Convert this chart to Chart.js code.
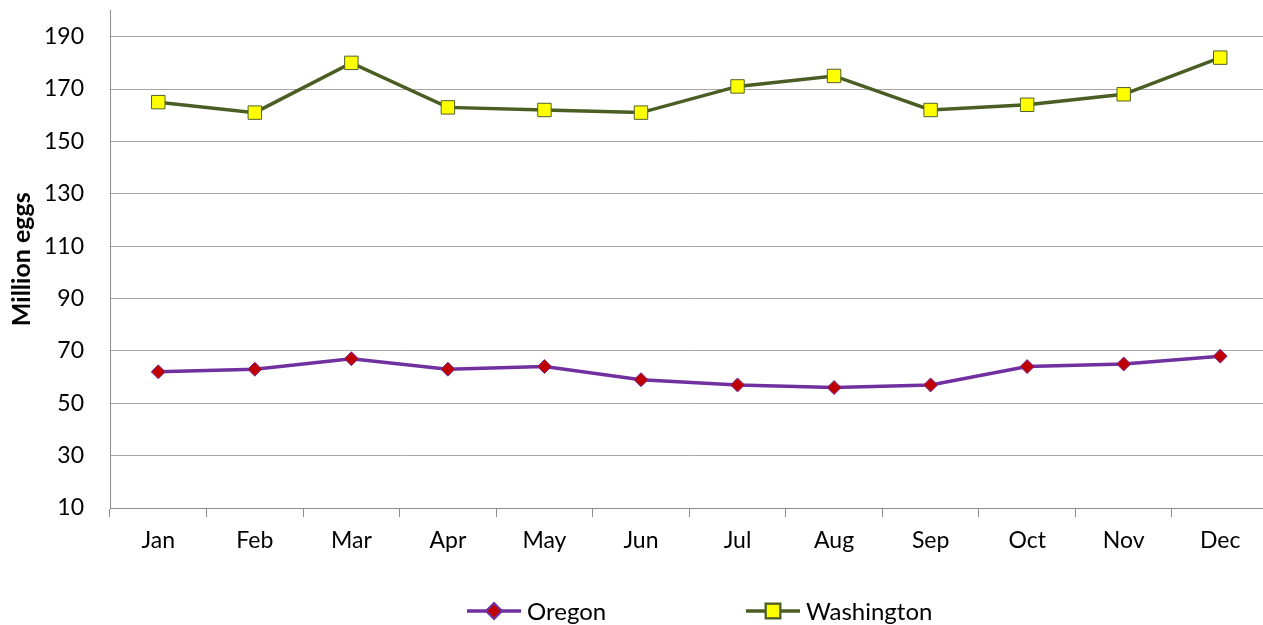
<!DOCTYPE html>
<html>
<head>
<meta charset="utf-8">
<script src="https://cdn.jsdelivr.net/npm/chart.js@4"></script>
<style>
  html, body { margin: 0; padding: 0; background: #fff; overflow: hidden; }
  #wrap { width: 1279px; height: 625px; position: relative; }
</style>
</head>
<body>
<div id="wrap"><canvas id="chart"></canvas></div>
<script>
const months = ['Jan', 'Feb', 'Mar', 'Apr', 'May', 'Jun', 'Jul', 'Aug', 'Sep', 'Oct', 'Nov', 'Dec'];
const oregon = [62, 63, 67, 63, 64, 59, 57, 56, 57, 64, 65, 68];
const washington = [165, 161, 180, 163, 162, 161, 171, 175, 162, 164, 168, 182];
const yTicks = [10, 30, 50, 70, 90, 110, 130, 150, 170, 190];

const FONT = 'Lato, "Open Sans", sans-serif';
const FONT_SIZE = 23;

// legend drawn Excel-style: short line with the marker in its middle
const lineLegend = {
    id: 'lineLegend',
    afterDraw(chart) {
        const ctx = chart.ctx;
        const y = 611;
        const starts = [467, 746];
        ctx.save();
        chart.data.datasets.forEach((ds, i) => {
            const x0 = starts[i];
            ctx.strokeStyle = ds.borderColor;
            ctx.lineWidth = ds.borderWidth;
            ctx.beginPath();
            ctx.moveTo(x0, y);
            ctx.lineTo(x0 + 54, y);
            ctx.stroke();
            Chart.helpers.drawPoint(ctx, {
                pointStyle: ds.pointStyle,
                radius: ds.pointRadius,
                borderWidth: 1
            }, x0 + 27, y);
            ctx.fillStyle = ds.pointBackgroundColor;
            ctx.strokeStyle = ds.pointBorderColor;
            ctx.lineWidth = 1;
            ctx.fill();
            ctx.stroke();
            ctx.fillStyle = '#000';
            ctx.font = (FONT_SIZE + 1) + 'px ' + FONT;
            ctx.textBaseline = 'middle';
            ctx.textAlign = 'left';
            ctx.fillText(ds.label, x0 + 60, y + 1);
        });
        ctx.restore();
    }
};

new Chart(document.getElementById('chart'), {
    type: 'line',
    data: {
        labels: months,
        datasets: [
            {
                label: 'Oregon',
                data: oregon,
                borderColor: '#7030a0',
                borderWidth: 3.5,
                pointStyle: 'rectRot',
                pointRadius: 7,
                pointHoverRadius: 7,
                pointBackgroundColor: '#c00000',
                pointBorderColor: '#7030a0',
                pointBorderWidth: 1,
                tension: 0
            },
            {
                label: 'Washington',
                data: washington,
                borderColor: '#4a5e24',
                borderWidth: 3.5,
                pointStyle: 'rect',
                pointRadius: 9.5,
                pointHoverRadius: 9.5,
                pointBackgroundColor: '#ffff00',
                pointBorderColor: '#4f6228',
                pointBorderWidth: 1,
                tension: 0
            }
        ]
    },
    options: {
        responsive: true,
        maintainAspectRatio: false,
        animation: false,
        layout: { padding: { left: 0, right: 0, top: 9, bottom: 0 } },
        plugins: {
            legend: { display: false },
            tooltip: { enabled: false }
        },
        scales: {
            x: {
                offset: true,
                grid: { offset: true, drawOnChartArea: false, color: '#8c8c8c', tickLength: 9 },
                border: { color: '#8c8c8c' },
                ticks: { color: '#000', font: { family: FONT, size: FONT_SIZE }, padding: 10, maxRotation: 0 },
                afterFit(scale) {
                    scale.height = 117;
                    scale.paddingLeft = 0;
                    scale.paddingRight = 0;
                }
            },
            y: {
                min: 10,
                max: 200,
                afterBuildTicks(scale) { scale.ticks = yTicks.map(v => ({ value: v })); },
                grid: { color: '#a6a6a6', drawTicks: false },
                border: { color: '#8c8c8c' },
                ticks: { color: '#000', font: { family: FONT, size: FONT_SIZE }, padding: 26 },
                title: {
                    display: true,
                    text: 'Million eggs',
                    color: '#000',
                    font: { family: FONT, size: 25, weight: 'bold' },
                    padding: { top: 7, bottom: 0 }
                },
                afterFit(scale) {
                    scale.width = 110;
                    scale.paddingTop = 0;
                    scale.paddingBottom = 0;
                }
            }
        }
    },
    plugins: [lineLegend]
});
</script>
</body>
</html>
